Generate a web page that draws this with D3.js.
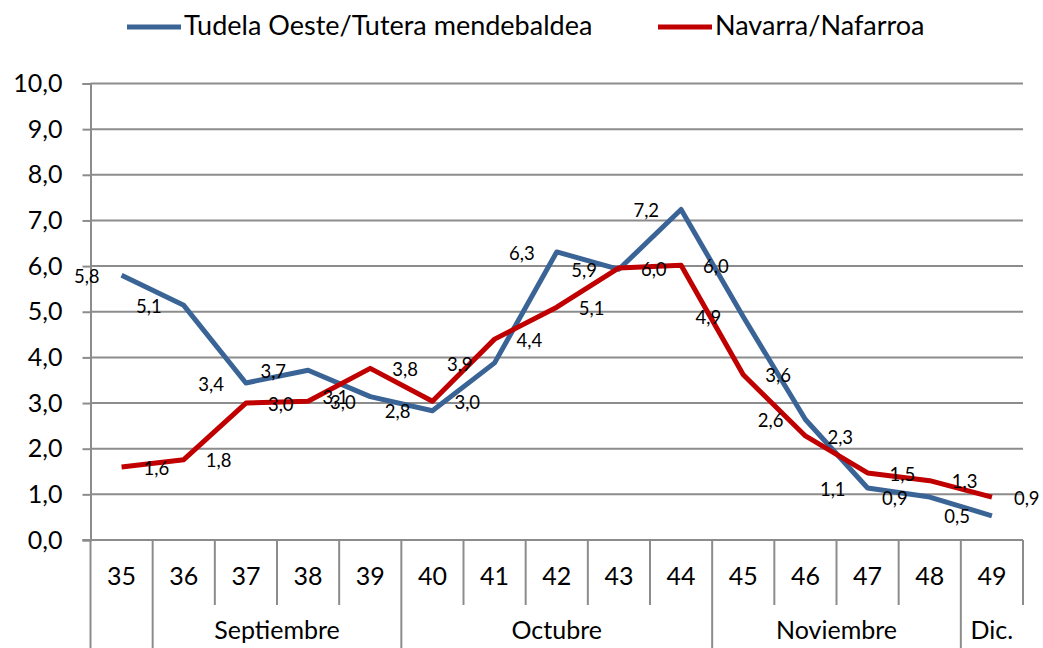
<!DOCTYPE html>
<html>
<head>
<meta charset="utf-8">
<script src="https://cdn.jsdelivr.net/npm/d3@7"></script>
<style>
  body { margin: 0; background: #fff; }
  svg text { font-family: Lato, "Liberation Sans", sans-serif; fill: #000; }
</style>
</head>
<body>
<svg id="chart" width="1043" height="648"></svg>
<script>
// weeks on the x axis
var weeks = ["35","36","37","38","39","40","41","42","43","44","45","46","47","48","49"];

// month groups under the weeks (first / last week of each)
var months = [
  { name: "Septiembre", from: "36", to: "39" },
  { name: "Octubre", from: "40", to: "44" },
  { name: "Noviembre", from: "45", to: "48" },
  { name: "Dic.", from: "49", to: "49" }
];

var tudela = [5.8, 5.14, 3.44, 3.72, 3.14, 2.83, 3.88, 6.31, 5.93, 7.24, 4.89, 2.64, 1.14, 0.94, 0.53];
var navarra = [1.6, 1.76, 3.0, 3.04, 3.76, 3.04, 4.4, 5.1, 5.96, 6.02, 3.62, 2.28, 1.47, 1.3, 0.94];

var yTicks = [0,1,2,3,4,5,6,7,8,9,10];

var series = [
  { name: "Tudela Oeste/Tutera mendebaldea", values: tudela, color: "#3a6496", side: "left" },
  { name: "Navarra/Nafarroa", values: navarra, color: "#c00000", side: "right" }
];

var svg = d3.select("#chart");
var plotLeft = 90.5, plotRight = 1023, plotTop = 83.5, plotBottom = 540;

var x = d3.scaleBand().domain(weeks).range([plotLeft, plotRight]).padding(0);
var y = d3.scaleLinear().domain([0, 10]).range([plotBottom, plotTop]);
var fmt = function(v){ return d3.format(".1f")(v).replace(".", ","); };
var cx = function(w){ return x(w) + x.bandwidth() / 2; };
var gridColor = "#8c8c8c";

//gridlines
svg.append("g").selectAll("line")
  .data(yTicks.filter(function(t){ return t > 0; }))
  .enter().append("line")
  .attr("x1", plotLeft).attr("x2", plotRight)
  .attr("y1", function(d){ return y(d); }).attr("y2", function(d){ return y(d); })
  .attr("stroke", gridColor).attr("stroke-width", 2);

// y axis
var yAxis = d3.axisLeft(y).tickValues(yTicks).tickSize(8).tickPadding(20).tickFormat(fmt);
var gy = svg.append("g").attr("transform", "translate(" + plotLeft + ",0)").call(yAxis);
gy.select(".domain").attr("stroke", gridColor).attr("stroke-width", 2);
gy.selectAll(".tick line").attr("stroke", gridColor).attr("stroke-width", 2);
gy.selectAll(".tick text").attr("font-size", 25).attr("font-family", "Lato").attr("fill", "#000");

// bottom axis line
svg.append("line").attr("x1", plotLeft - 8).attr("x2", plotRight)
  .attr("y1", plotBottom).attr("y2", plotBottom)
  .attr("stroke", gridColor).attr("stroke-width", 2);

// category dividers: long at month boundaries, short otherwise
var longAt = months.map(function(m){ return m.from; });
var dividers = weeks.map(function(w){ return x(w); }).concat([plotRight]);
svg.append("g").selectAll("line")
  .data(dividers)
  .enter().append("line")
  .attr("x1", function(d){ return d; }).attr("x2", function(d){ return d; })
  .attr("y1", plotBottom)
  .attr("y2", function(d, i){
    return (i === 0 || (i < weeks.length && longAt.indexOf(weeks[i]) !== -1)) ? 648 : 605;
  })
  .attr("stroke", gridColor).attr("stroke-width", 2);

// week labels
svg.append("g").selectAll("text")
  .data(weeks)
  .enter().append("text")
  .attr("x", cx).attr("y", 579)
  .attr("text-anchor", "middle").attr("dominant-baseline", "middle")
  .attr("font-size", 25)
  .text(function(d){ return d; });

// month labels
svg.append("g").selectAll("text")
  .data(months)
  .enter().append("text")
  .attr("x", function(m){ return (x(m.from) + x(m.to) + x.bandwidth()) / 2; })
  .attr("y", 633)
  .attr("text-anchor", "middle").attr("dominant-baseline", "middle")
  .attr("font-size", 25)
  .text(function(m){ return m.name; });

// lines
var line = d3.line()
  .x(function(d, i){ return cx(weeks[i]); })
  .y(function(d){ return y(d); });

series.forEach(function(s){
  svg.append("path")
    .datum(s.values)
    .attr("d", line)
    .attr("fill", "none")
    .attr("stroke", s.color)
    .attr("stroke-width", 5)
    .attr("stroke-linejoin", "round");
});

// data labels: blue to the left of the point, red to the right
series.forEach(function(s){
  svg.append("g").selectAll("text")
    .data(s.values)
    .enter().append("text")
    .attr("x", function(d, i){ return cx(weeks[i]) + (s.side === "left" ? -22 : 22); })
    .attr("y", function(d){ return y(d) + 3; })
    .attr("text-anchor", s.side === "left" ? "end" : "start")
    .attr("dominant-baseline", "middle")
    .attr("font-size", 18.5)
    .text(fmt);
});

// legend
var legend = svg.append("g");
var legendX = [127, 658];
series.forEach(function(s, i){
  legend.append("line")
    .attr("x1", legendX[i]).attr("x2", legendX[i] + 54)
    .attr("y1", 27).attr("y2", 27)
    .attr("stroke", s.color).attr("stroke-width", 5);
  legend.append("text")
    .attr("x", legendX[i] + 57).attr("y", 28)
    .attr("dominant-baseline", "middle")
    .attr("font-size", 27)
    .text(s.name);
});
</script>
</body>
</html>
